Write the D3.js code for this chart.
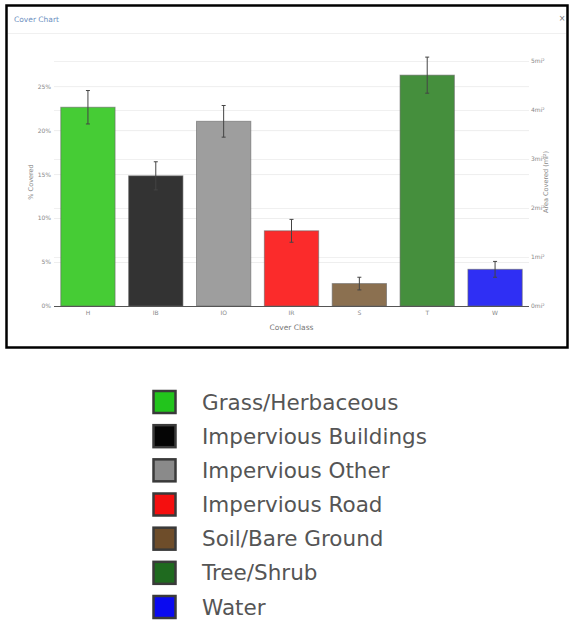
<!DOCTYPE html>
<html>
<head>
<meta charset="utf-8">
<script src="https://cdn.jsdelivr.net/npm/d3@7"></script>
<style>
  html, body { margin: 0; padding: 0; background: #fff; }
  svg { display: block; }
</style>
</head>
<body>
<svg id="chart" width="571" height="621"></svg>
<script>
// ---- data ----
const categories = ["H", "IB", "IO", "IR", "S", "T", "W"];
const percentCovered = [22.6, 14.8, 21.0, 8.55, 2.55, 26.25, 4.17];
const errorPlusMinus = [1.9, 1.6, 1.8, 1.3, 0.72, 2.05, 0.9];
const barColors = ["#46cc35", "#333333", "#9e9e9e", "#fb2b2b", "#8b7050", "#458f3d", "#2f2ff4"];
const leftTicks = [0, 5, 10, 15, 20, 25];
const rightTicks = [0, 1, 2, 3, 4, 5];
const legendLabels = ["Grass/Herbaceous", "Impervious Buildings", "Impervious Other", "Impervious Road", "Soil/Bare Ground", "Tree/Shrub", "Water"];
const legendColors = ["#22c41c", "#050505", "#8a8a8a", "#f50f0f", "#6e4d2a", "#1f6a1f", "#0a0af0"];
const leftMax = 28.2;       // % axis max
const rightMax = 5.06;      // mi² axis max (secondary)

const svg = d3.select("#chart");
const font = "'DejaVu Sans', Verdana, sans-serif";

// ---- frame ----
svg.append("rect").attr("x", 6.5).attr("y", 5.5).attr("width", 561).attr("height", 342)
  .attr("fill", "#fff").attr("stroke", "#000").attr("stroke-width", 2.5);
svg.append("text").attr("x", 14).attr("y", 22).text("Cover Chart")
  .attr("font-family", font).attr("font-size", 7.5).attr("fill", "#6d8fbf");
svg.append("text").attr("x", 562).attr("y", 21).text("×").attr("text-anchor", "middle")
  .attr("font-family", font).attr("font-size", 8).attr("fill", "#777");
svg.append("line").attr("x1", 8).attr("x2", 566).attr("y1", 33.5).attr("y2", 33.5)
  .attr("stroke", "#f0f0f0").attr("stroke-width", 1);

// ---- scales ----
const plot = { left: 54, right: 529, top: 58, bottom: 306 };
const x = d3.scaleBand().domain(categories).range([plot.left, plot.right]).paddingInner(0.2).paddingOuter(0.1);
const y = d3.scaleLinear().domain([0, leftMax]).range([plot.bottom, plot.top]);
const y2 = d3.scaleLinear().domain([0, rightMax]).range([plot.bottom, plot.top]);

const g = svg.append("g");

// gridlines (both axes)
g.selectAll(".gl").data(leftTicks.filter(d => d > 0)).join("line")
  .attr("x1", plot.left).attr("x2", plot.right)
  .attr("y1", d => y(d) + 0.5).attr("y2", d => y(d) + 0.5)
  .attr("stroke", "#eeeeee").attr("stroke-width", 1);
g.selectAll(".gr").data(rightTicks.filter(d => d > 0)).join("line")
  .attr("x1", plot.left).attr("x2", plot.right)
  .attr("y1", d => y2(d) + 0.5).attr("y2", d => y2(d) + 0.5)
  .attr("stroke", "#f0f0f0").attr("stroke-width", 1);

// bars
g.selectAll(".bar").data(categories).join("rect")
  .attr("x", d => x(d)).attr("width", x.bandwidth())
  .attr("y", (d, i) => y(percentCovered[i]))
  .attr("height", (d, i) => plot.bottom - y(percentCovered[i]))
  .attr("fill", (d, i) => barColors[i])
  .attr("stroke", "#666").attr("stroke-opacity", 0.6).attr("stroke-width", 1);

// error bars
const eb = g.selectAll(".eb").data(categories).join("g");
eb.append("line")
  .attr("x1", d => x(d) + x.bandwidth() / 2).attr("x2", d => x(d) + x.bandwidth() / 2)
  .attr("y1", (d, i) => y(percentCovered[i] + errorPlusMinus[i]))
  .attr("y2", (d, i) => y(percentCovered[i] - errorPlusMinus[i]))
  .attr("stroke", "#444").attr("stroke-width", 1);
eb.append("line")
  .attr("x1", d => x(d) + x.bandwidth() / 2 - 2).attr("x2", d => x(d) + x.bandwidth() / 2 + 2)
  .attr("y1", (d, i) => y(percentCovered[i] + errorPlusMinus[i]))
  .attr("y2", (d, i) => y(percentCovered[i] + errorPlusMinus[i]))
  .attr("stroke", "#444").attr("stroke-width", 1);
eb.append("line")
  .attr("x1", d => x(d) + x.bandwidth() / 2 - 2).attr("x2", d => x(d) + x.bandwidth() / 2 + 2)
  .attr("y1", (d, i) => y(percentCovered[i] - errorPlusMinus[i]))
  .attr("y2", (d, i) => y(percentCovered[i] - errorPlusMinus[i]))
  .attr("stroke", "#444").attr("stroke-width", 1);

// baseline
g.append("line").attr("x1", plot.left).attr("x2", plot.right)
  .attr("y1", plot.bottom + 0.5).attr("y2", plot.bottom + 0.5)
  .attr("stroke", "#555").attr("stroke-width", 1);

// axes
const tickStyle = sel => {
  sel.select(".domain").remove();
  sel.selectAll(".tick line").remove();
  sel.selectAll("text").attr("font-family", font).attr("font-size", 6).attr("fill", "#888");
};
svg.append("g").attr("transform", `translate(${plot.left},0)`)
  .call(d3.axisLeft(y).tickValues(leftTicks).tickFormat(d => d + "%").tickSize(0).tickPadding(3))
  .call(tickStyle);
svg.append("g").attr("transform", `translate(${plot.right},0)`)
  .call(d3.axisRight(y2).tickValues(rightTicks).tickFormat(d => d + "mi²").tickSize(0).tickPadding(2))
  .call(tickStyle);
svg.append("g").attr("transform", `translate(0,${plot.bottom})`)
  .call(d3.axisBottom(x).tickSize(0).tickPadding(5))
  .call(tickStyle);

// axis titles
svg.append("text").attr("transform", "translate(33,182) rotate(-90)").attr("text-anchor", "middle")
  .text("% Covered").attr("font-family", font).attr("font-size", 6.5).attr("fill", "#888");
svg.append("text").attr("transform", "translate(548,182) rotate(-90)").attr("text-anchor", "middle")
  .text("Area Covered (mi²)").attr("font-family", font).attr("font-size", 6.5).attr("fill", "#888");
svg.append("text").attr("x", (plot.left + plot.right) / 2).attr("y", 330).attr("text-anchor", "middle")
  .text("Cover Class").attr("font-family", font).attr("font-size", 7.5).attr("fill", "#777");

// ---- legend ----
const ly = d3.scalePoint().domain(legendLabels).range([402, 607]);
const lg = svg.append("g").selectAll("g").data(legendLabels).join("g")
  .attr("transform", d => `translate(0,${ly(d)})`);
lg.append("rect").attr("x", 153.5).attr("y", -11).attr("width", 22).attr("height", 22)
  .attr("fill", (d, i) => legendColors[i]).attr("stroke", "#3a3a3a").attr("stroke-width", 2.5);
lg.append("text").attr("x", 202).attr("y", 0).attr("dy", "0.35em").text(d => d)
  .attr("font-family", font).attr("font-size", 21.5).attr("fill", "#555");
</script>
</body>
</html>
